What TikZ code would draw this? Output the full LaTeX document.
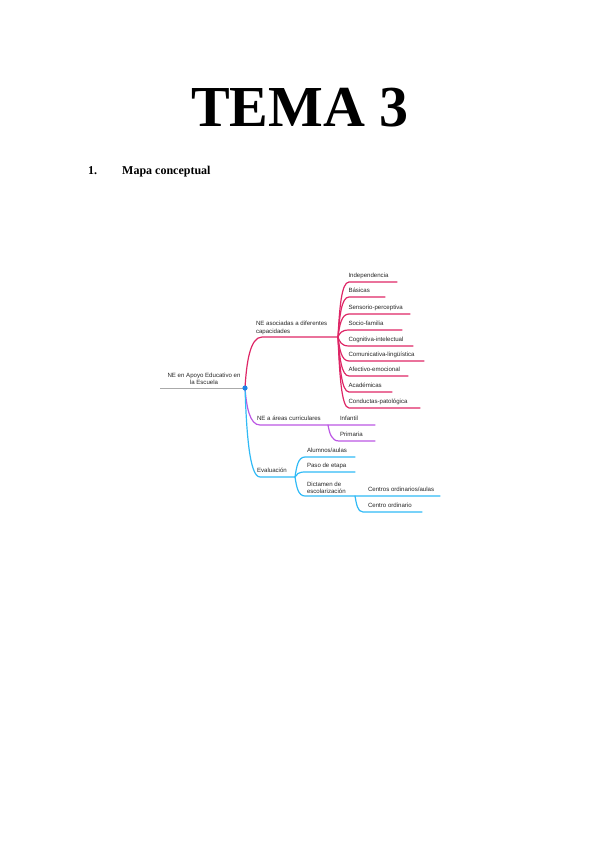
\documentclass[tikz,border=0pt]{standalone}
\usepackage{fontspec}
\usetikzlibrary{calc}
\setmainfont{Liberation Serif}
\newfontfamily\mapfont{Liberation Sans}
\definecolor{crim}{RGB}{222,38,102}
\definecolor{purp}{RGB}{188,88,228}
\definecolor{sky}{RGB}{48,186,246}
\definecolor{dotblue}{RGB}{30,130,230}
\definecolor{rootgray}{RGB}{170,170,170}
\begin{document}
\begin{tikzpicture}[x=1pt,y=-1pt,
  lbl/.style={inner sep=0pt,outer sep=0pt,anchor=base west,font=\mapfont\fontsize{6.1}{7.6}\selectfont,text=black!85},
  mlbl/.style={lbl,align=left,anchor=south west},
  crl/.style={draw=crim,line width=1.2pt,line cap=round},
  prl/.style={draw=purp,line width=1.2pt,line cap=round},
  skl/.style={draw=sky,line width=1.2pt,line cap=round},
  mm/.style={to path={.. controls ($(\tikztostart)!0.5!(\tikztostart |- \tikztotarget)+(1.5,0)$) and ($(\tikztostart |- \tikztotarget)!0.3!(\tikztotarget)$) .. (\tikztotarget) \tikztonodes}}]
\useasboundingbox (0,0) rectangle (599,848);
% titles
\node[inner sep=0pt,anchor=base,font=\bfseries\fontsize{58}{60}\selectfont] (title) at (300,127) {TEMA 3};
\node[inner sep=0pt,anchor=base west,font=\bfseries\fontsize{12}{14}\selectfont] (num) at (88,174) {1.};
\node[inner sep=0pt,anchor=base west,font=\bfseries\fontsize{12}{14}\selectfont] (sub) at (122,174) {Mapa conceptual};
% root
\coordinate (r0) at (160,388);
\coordinate (hub) at (245,388);
\draw[rootgray,line width=1pt] (r0) -- (hub);
\node[lbl,align=center,anchor=south] (rootlbl) at (204,385) {NE en Apoyo Educativo en\\la Escuela};
% branch 1
\coordinate (b1s) at (262,337);
\coordinate (b1e) at (338,337);
\draw[crl] (hub) to[mm] (b1s) -- (b1e);
\node[mlbl] (b1lbl) at (256,334.5) {NE asociadas a diferentes\\capacidades};
\foreach \i/\y/\e/\t in {1/282/397/Independencia,2/297/385/Básicas,3/314/410/Sensorio-perceptiva,4/330/402/Socio-familia,5/346/413/Cognitiva-intelectual,6/361/424/Comunicativa-lingüística,7/376/408/Afectivo-emocional,8/392/392/Académicas,9/408/420/Conductas-patológica}{
  \coordinate (c\i s) at (349,\y);
  \coordinate (c\i e) at (\e,\y);
  \draw[crl] (b1e) to[mm] (c\i s) -- (c\i e);
  \node[lbl] (c\i) at (348.5,\y-4.5) {\t};
}
% branch 2
\coordinate (b2s) at (260,425);
\coordinate (b2m) at (328,425);
\coordinate (b2e) at (375,425);
\draw[prl] (hub) to[mm] (b2s) -- (b2m) -- (b2e);
\node[lbl] (b2lbl) at (257,420.5) {NE a áreas curriculares};
\node[lbl] (inf) at (340,420.5) {Infantil};
\coordinate (p2s) at (339,441);
\coordinate (p2e) at (375,441);
\draw[prl] (b2m) to[mm] (p2s) -- (p2e);
\node[lbl] (prim) at (340,436.5) {Primaria};
% branch 3
\coordinate (b3s) at (260,477);
\coordinate (b3e) at (295,477);
\draw[skl] (hub) to[mm] (b3s) -- (b3e);
\node[lbl] (b3lbl) at (257,472.5) {Evaluación};
\coordinate (e1s) at (305,457); \coordinate (e1e) at (355,457);
\coordinate (e2s) at (305,472); \coordinate (e2e) at (355,472);
\coordinate (e3s) at (305,496); \coordinate (e3m) at (355,496); \coordinate (e3e) at (440,496);
\draw[skl] (b3e) to[mm] (e1s) -- (e1e);
\draw[skl] (b3e) to[mm] (e2s) -- (e2e);
\draw[skl] (b3e) to[mm] (e3s) -- (e3m) -- (e3e);
\node[lbl] (e1) at (307,452.5) {Alumnos/aulas};
\node[lbl] (e2) at (307,467.5) {Paso de etapa};
\node[mlbl] (e3) at (307,494) {Dictamen de\\escolarización};
\node[lbl] (f1) at (368,491.5) {Centros ordinarios/aulas};
\coordinate (f2s) at (363,512); \coordinate (f2e) at (422,512);
\draw[skl] (e3m) to[mm] (f2s) -- (f2e);
\node[lbl] (f2) at (368,507.5) {Centro ordinario};
% hub dot
\fill[dotblue] (hub) circle (2.6);
\end{tikzpicture}
\end{document}
